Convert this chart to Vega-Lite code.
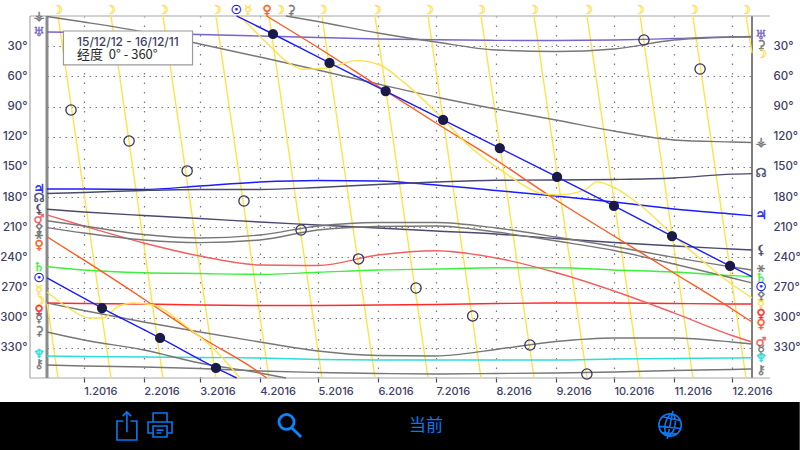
{
"$schema":"https://vega.github.io/schema/vega-lite/v6.json",
"width":705,"height":362,"autosize":{"type":"none"},
"padding":{"left":47,"top":16,"right":48,"bottom":72},
"background":"white",
"config":{"view":{"stroke":null},"font":"Liberation Sans"},
"datasets":{
"planets":[
{"date":"2015-12-13","Uranus":15.9,"Vesta":0.5,"Chiron":347,"Neptune":338.1,"Hermes":285.4,"Saturn":249.3,"Mars":197.9,"Jupiter":172,"Node":176.5,"Lilith":192.2,"Juno":203.6,"Pallas":210.5,"Eros":285.4},
{"date":"2016-01-01","Uranus":16.4,"Vesta":6,"Chiron":348,"Neptune":338.6,"Hermes":285.9,"Saturn":252.6,"Mars":208.8,"Jupiter":172,"Node":175.5,"Lilith":194.9,"Juno":208.8,"Pallas":215.8,"Eros":292.9},
{"date":"2016-02-01","Uranus":17.4,"Vesta":15.9,"Chiron":349,"Neptune":339.1,"Hermes":286.4,"Saturn":255.3,"Mars":225.7,"Jupiter":172.5,"Node":173.5,"Lilith":198.4,"Juno":217.3,"Pallas":222.7,"Eros":304.3},
{"date":"2016-03-01","Uranus":18.4,"Vesta":27.8,"Chiron":350.5,"Neptune":339.6,"Hermes":287.4,"Saturn":256.1,"Mars":238.7,"Jupiter":169,"Node":172.5,"Lilith":201.4,"Juno":220.8,"Pallas":225.4,"Eros":314.2},
{"date":"2016-04-01","Uranus":19.9,"Vesta":40.8,"Chiron":353,"Neptune":340.1,"Hermes":287.9,"Saturn":256.9,"Mars":247.6,"Jupiter":165.1,"Node":172.5,"Lilith":204.9,"Juno":217.8,"Pallas":222.7,"Eros":324.2},
{"date":"2016-05-01","Uranus":21.4,"Vesta":53.7,"Chiron":354.5,"Neptune":341.6,"Hermes":287.9,"Saturn":254.9,"Mars":248.1,"Jupiter":163.6,"Node":170.5,"Lilith":207.8,"Juno":208.8,"Pallas":212.8,"Eros":333.1},
{"date":"2016-06-01","Uranus":22.9,"Vesta":67.6,"Chiron":355.5,"Neptune":342.1,"Hermes":287.4,"Saturn":252.6,"Mars":237.7,"Jupiter":164.1,"Node":167.6,"Lilith":210.8,"Juno":205.3,"Pallas":209.3,"Eros":337.6},
{"date":"2016-07-01","Uranus":23.6,"Vesta":80.5,"Chiron":356,"Neptune":342.1,"Hermes":286.9,"Saturn":251.6,"Mars":233.4,"Jupiter":168.1,"Node":165.1,"Lilith":213.8,"Juno":205.3,"Pallas":208.8,"Eros":338.1},
{"date":"2016-08-01","Uranus":24.2,"Vesta":92.5,"Chiron":355.5,"Neptune":342.1,"Hermes":285.9,"Saturn":250.3,"Mars":240.6,"Jupiter":173.5,"Node":163.4,"Lilith":216.8,"Juno":210.8,"Pallas":214.8,"Eros":331.6},
{"date":"2016-09-01","Uranus":24.4,"Vesta":103.4,"Chiron":355,"Neptune":342.1,"Hermes":285.4,"Saturn":250.3,"Mars":255.1,"Jupiter":179,"Node":163.1,"Lilith":221.3,"Juno":219.8,"Pallas":223.7,"Eros":323.7},
{"date":"2016-10-01","Uranus":23.9,"Vesta":114.4,"Chiron":354,"Neptune":341.1,"Hermes":285.4,"Saturn":252.6,"Mars":273.5,"Jupiter":185,"Node":162.6,"Lilith":225.2,"Juno":229.2,"Pallas":233.2,"Eros":320.2},
{"date":"2016-11-01","Uranus":22.4,"Vesta":123.3,"Chiron":352.5,"Neptune":340.6,"Hermes":285.9,"Saturn":254.6,"Mars":295.3,"Jupiter":191.9,"Node":161.1,"Lilith":228.7,"Juno":240.1,"Pallas":246.6,"Eros":320.2},
{"date":"2016-12-01","Uranus":20.9,"Vesta":125.3,"Chiron":351.5,"Neptune":340.1,"Hermes":286.4,"Saturn":258.2,"Mars":317.7,"Jupiter":196.9,"Node":157.3,"Lilith":231.7,"Juno":249.6,"Pallas":260.5,"Eros":324.2},
{"date":"2016-12-11T08:00Z","Uranus":20.9,"Vesta":125.8,"Chiron":351,"Neptune":339.8,"Hermes":286.4,"Saturn":259.2,"Mars":324.2,"Jupiter":198.6,"Node":156.8,"Lilith":232.7,"Juno":252.6,"Pallas":265.5,"Eros":326.2}
],
"paths":[
{"body":"Ceres","seg":"c1","date":"2015-12-13","deg":314.2},{"body":"Ceres","seg":"c1","date":"2016-01-01","deg":322.2},{"body":"Ceres","seg":"c1","date":"2016-02-01","deg":332.1},{"body":"Ceres","seg":"c1","date":"2016-03-01","deg":345.1},{"body":"Ceres","seg":"c1","date":"2016-04-01","deg":355},{"body":"Ceres","seg":"c1","date":"2016-04-14T12:00Z","deg":360},
{"body":"Ceres","seg":"c2","date":"2016-04-14T12:00Z","deg":0},{"body":"Ceres","seg":"c2","date":"2016-05-01","deg":5.5},{"body":"Ceres","seg":"c2","date":"2016-06-01","deg":16.9},{"body":"Ceres","seg":"c2","date":"2016-07-01","deg":25.9},{"body":"Ceres","seg":"c2","date":"2016-08-01","deg":33.8},{"body":"Ceres","seg":"c2","date":"2016-09-01","deg":35.3},{"body":"Ceres","seg":"c2","date":"2016-10-01","deg":32.8},{"body":"Ceres","seg":"c2","date":"2016-11-01","deg":23.9},{"body":"Ceres","seg":"c2","date":"2016-12-01","deg":20.9},{"body":"Ceres","seg":"c2","date":"2016-12-11T08:00Z","deg":20.4},
{"body":"Venus","seg":"v1","date":"2015-12-13","deg":219.5},{"body":"Venus","seg":"v1","date":"2016-01-01","deg":242.6},{"body":"Venus","seg":"v1","date":"2016-02-01","deg":281.4},{"body":"Venus","seg":"v1","date":"2016-03-01","deg":318.7},{"body":"Venus","seg":"v1","date":"2016-04-01","deg":355},{"body":"Venus","seg":"v1","date":"2016-04-04T12:00Z","deg":360},
{"body":"Venus","seg":"v2","date":"2016-04-04T12:00Z","deg":0},{"body":"Venus","seg":"v2","date":"2016-05-01","deg":31.3},{"body":"Venus","seg":"v2","date":"2016-06-01","deg":69.6},{"body":"Venus","seg":"v2","date":"2016-07-01","deg":106.4},{"body":"Venus","seg":"v2","date":"2016-08-01","deg":143.2},{"body":"Venus","seg":"v2","date":"2016-09-01","deg":183},{"body":"Venus","seg":"v2","date":"2016-10-01","deg":218.8},{"body":"Venus","seg":"v2","date":"2016-11-01","deg":255.6},{"body":"Venus","seg":"v2","date":"2016-12-01","deg":291.4},{"body":"Venus","seg":"v2","date":"2016-12-11T08:00Z","deg":304.3},
{"body":"Mercury","seg":"m1","date":"2015-12-13","deg":274.5},{"body":"Mercury","seg":"m1","date":"2015-12-23T07:00Z","deg":289.4},{"body":"Mercury","seg":"m1","date":"2016-01-04T05:00Z","deg":300.3},{"body":"Mercury","seg":"m1","date":"2016-01-10T22:00Z","deg":300.3},{"body":"Mercury","seg":"m1","date":"2016-01-18T05:00Z","deg":289.4},{"body":"Mercury","seg":"m1","date":"2016-01-26T10:00Z","deg":285.4},{"body":"Mercury","seg":"m1","date":"2016-02-05T19:00Z","deg":287.4},{"body":"Mercury","seg":"m1","date":"2016-02-23T10:00Z","deg":309.3},{"body":"Mercury","seg":"m1","date":"2016-03-08T19:00Z","deg":332.1},{"body":"Mercury","seg":"m1","date":"2016-03-21T17:00Z","deg":360},
{"body":"Mercury","seg":"m2","date":"2016-03-21T17:00Z","deg":0},{"body":"Mercury","seg":"m2","date":"2016-04-06T05:00Z","deg":29.8},{"body":"Mercury","seg":"m2","date":"2016-04-15","deg":45.4},{"body":"Mercury","seg":"m2","date":"2016-04-23T07:00Z","deg":53},{"body":"Mercury","seg":"m2","date":"2016-05-05T17:00Z","deg":51.7},{"body":"Mercury","seg":"m2","date":"2016-05-21T05:00Z","deg":44.4},{"body":"Mercury","seg":"m2","date":"2016-06-02T02:00Z","deg":48.7},{"body":"Mercury","seg":"m2","date":"2016-06-14","deg":65.3},{"body":"Mercury","seg":"m2","date":"2016-07-01T14:00Z","deg":96.5},{"body":"Mercury","seg":"m2","date":"2016-07-18T14:00Z","deg":130},{"body":"Mercury","seg":"m2","date":"2016-08-04T17:00Z","deg":154.8},{"body":"Mercury","seg":"m2","date":"2016-08-23T19:00Z","deg":176},{"body":"Mercury","seg":"m2","date":"2016-09-02T02:00Z","deg":178},{"body":"Mercury","seg":"m2","date":"2016-09-16","deg":173},{"body":"Mercury","seg":"m2","date":"2016-09-22T05:00Z","deg":165},{"body":"Mercury","seg":"m2","date":"2016-09-30T12:00Z","deg":170},{"body":"Mercury","seg":"m2","date":"2016-10-14T12:00Z","deg":188},{"body":"Mercury","seg":"m2","date":"2016-10-31T12:00Z","deg":217.8},{"body":"Mercury","seg":"m2","date":"2016-11-30","deg":265.5},{"body":"Mercury","seg":"m2","date":"2016-12-11T08:00Z","deg":280.4},
{"body":"Sun","seg":"s1","date":"2015-12-13","deg":260.5},{"body":"Sun","seg":"s1","date":"2016-01-10T10:00Z","deg":290.4},{"body":"Sun","seg":"s1","date":"2016-02-09T10:00Z","deg":320.2},{"body":"Sun","seg":"s1","date":"2016-03-09T07:00Z","deg":350},{"body":"Sun","seg":"s1","date":"2016-03-20","deg":360},
{"body":"Sun","seg":"s2","date":"2016-03-20","deg":0},{"body":"Sun","seg":"s2","date":"2016-04-07T19:00Z","deg":17.9},{"body":"Sun","seg":"s2","date":"2016-05-07","deg":46.7},{"body":"Sun","seg":"s2","date":"2016-06-05","deg":74.6},{"body":"Sun","seg":"s2","date":"2016-07-04T17:00Z","deg":103.4},{"body":"Sun","seg":"s2","date":"2016-08-03","deg":131.3},{"body":"Sun","seg":"s2","date":"2016-09-01T14:00Z","deg":160.1},{"body":"Sun","seg":"s2","date":"2016-10-01","deg":188.9},{"body":"Sun","seg":"s2","date":"2016-10-31","deg":218.8},{"body":"Sun","seg":"s2","date":"2016-11-30","deg":248.6},{"body":"Sun","seg":"s2","date":"2016-12-11T08:00Z","deg":259.3}
],
"moons":[
{"body":"Moon","seg":"l0","date":"2015-12-13","deg":285},{"body":"Moon","seg":"l0","date":"2015-12-18T17:00Z","deg":360},
{"body":"Moon","seg":"l1","date":"2015-12-18T17:00Z","deg":0},{"body":"Moon","seg":"l1","date":"2016-01-01T10:00Z","deg":180},{"body":"Moon","seg":"l1","date":"2016-01-15T02:00Z","deg":360},
{"body":"Moon","seg":"l2","date":"2016-01-15T02:00Z","deg":0},{"body":"Moon","seg":"l2","date":"2016-01-28T12:00Z","deg":180},{"body":"Moon","seg":"l2","date":"2016-02-10T22:00Z","deg":360},
{"body":"Moon","seg":"l3","date":"2016-02-10T22:00Z","deg":0},{"body":"Moon","seg":"l3","date":"2016-02-24T14:00Z","deg":180},{"body":"Moon","seg":"l3","date":"2016-03-09T07:00Z","deg":360},
{"body":"Moon","seg":"l4","date":"2016-03-09T07:00Z","deg":0},{"body":"Moon","seg":"l4","date":"2016-03-23","deg":180},{"body":"Moon","seg":"l4","date":"2016-04-05T17:00Z","deg":360},
{"body":"Moon","seg":"l5","date":"2016-04-05T17:00Z","deg":0},{"body":"Moon","seg":"l5","date":"2016-04-19T10:00Z","deg":180},{"body":"Moon","seg":"l5","date":"2016-05-03T02:00Z","deg":360},
{"body":"Moon","seg":"l6","date":"2016-05-03T02:00Z","deg":0},{"body":"Moon","seg":"l6","date":"2016-05-16T19:00Z","deg":180},{"body":"Moon","seg":"l6","date":"2016-05-30T12:00Z","deg":360},
{"body":"Moon","seg":"l7","date":"2016-05-30T12:00Z","deg":0},{"body":"Moon","seg":"l7","date":"2016-06-13T05:00Z","deg":180},{"body":"Moon","seg":"l7","date":"2016-06-26T22:00Z","deg":360},
{"body":"Moon","seg":"l8","date":"2016-06-26T22:00Z","deg":0},{"body":"Moon","seg":"l8","date":"2016-07-10T14:00Z","deg":180},{"body":"Moon","seg":"l8","date":"2016-07-24T07:00Z","deg":360},
{"body":"Moon","seg":"l9","date":"2016-07-24T07:00Z","deg":0},{"body":"Moon","seg":"l9","date":"2016-08-07","deg":180},{"body":"Moon","seg":"l9","date":"2016-08-20T17:00Z","deg":360},
{"body":"Moon","seg":"l10","date":"2016-08-20T17:00Z","deg":0},{"body":"Moon","seg":"l10","date":"2016-09-03T10:00Z","deg":180},{"body":"Moon","seg":"l10","date":"2016-09-17T02:00Z","deg":360},
{"body":"Moon","seg":"l11","date":"2016-09-17T02:00Z","deg":0},{"body":"Moon","seg":"l11","date":"2016-09-30T19:00Z","deg":180},{"body":"Moon","seg":"l11","date":"2016-10-14T12:00Z","deg":360},
{"body":"Moon","seg":"l12","date":"2016-10-14T12:00Z","deg":0},{"body":"Moon","seg":"l12","date":"2016-10-28T05:00Z","deg":180},{"body":"Moon","seg":"l12","date":"2016-11-10T19:00Z","deg":360},
{"body":"Moon","seg":"l13","date":"2016-11-10T19:00Z","deg":0},{"body":"Moon","seg":"l13","date":"2016-11-24T12:00Z","deg":180},{"body":"Moon","seg":"l13","date":"2016-12-08T05:00Z","deg":360},
{"body":"Moon","seg":"l14","date":"2016-12-08T05:00Z","deg":0},{"body":"Moon","seg":"l14","date":"2016-12-11T08:00Z","deg":37}
],
"newMoons":[
{"date":"2016-01-10T10:00Z","deg":290.4},{"date":"2016-02-09T10:00Z","deg":320.2},{"date":"2016-03-09T07:00Z","deg":350},{"date":"2016-04-07T19:00Z","deg":17.9},{"date":"2016-05-07","deg":46.7},{"date":"2016-06-05","deg":74.6},{"date":"2016-07-04T17:00Z","deg":103.4},{"date":"2016-08-03","deg":131.3},{"date":"2016-09-01T14:00Z","deg":160.1},{"date":"2016-10-01","deg":188.9},{"date":"2016-10-31","deg":218.8},{"date":"2016-11-30","deg":248.6}
],
"fullMoons":[
{"date":"2015-12-25T10:00Z","deg":93.5},{"date":"2016-01-24T10:00Z","deg":124.3},{"date":"2016-02-23T10:00Z","deg":154.1},{"date":"2016-03-23T19:00Z","deg":184},{"date":"2016-04-22T07:00Z","deg":212.8},{"date":"2016-05-22","deg":241.6},{"date":"2016-06-20T17:00Z","deg":270.5},{"date":"2016-07-20","deg":298.3},{"date":"2016-08-18T14:00Z","deg":327.2},{"date":"2016-09-17","deg":356},{"date":"2016-10-16T12:00Z","deg":23.9},{"date":"2016-11-14T12:00Z","deg":52.7}
],
"glyphs":[
{"g":"⚶","body":"Vesta","date":"2015-12-08T21:00Z","deg":0},{"g":"♅","body":"Uranus","date":"2015-12-08T21:00Z","deg":15.9},{"g":"♃","body":"Jupiter","date":"2015-12-08T21:00Z","deg":172},{"g":"☊","body":"Node","date":"2015-12-08T21:00Z","deg":181},{"g":"⚸","body":"Lilith","date":"2015-12-08T21:00Z","deg":192},{"g":"♂","body":"Mars","date":"2015-12-08T21:00Z","deg":201.9},{"g":"⚴","body":"Pallas","date":"2015-12-08T21:00Z","deg":210.8},{"g":"⚹","body":"Juno","date":"2015-12-08T21:00Z","deg":217.8},{"g":"♀","body":"Venus","date":"2015-12-08T21:00Z","deg":227.7},{"g":"♄","body":"Saturn","date":"2015-12-08T21:00Z","deg":249.6},{"g":"☉","body":"Sun","date":"2015-12-08T21:00Z","deg":260.5},{"g":"☿","body":"Mercury","date":"2015-12-08T21:00Z","deg":272.5},{"g":"☽","body":"Moon","date":"2015-12-08T21:00Z","deg":283.4},{"g":"♀","body":"Hermes","date":"2015-12-08T21:00Z","deg":292.4},{"g":"☿","body":"Eros","date":"2015-12-08T21:00Z","deg":300.3},{"g":"⚳","body":"Ceres","date":"2015-12-08T21:00Z","deg":313.2},{"g":"♆","body":"Neptune","date":"2015-12-08T21:00Z","deg":336.1},{"g":"⚷","body":"Chiron","date":"2015-12-08T21:00Z","deg":346.1},
{"g":"♅","body":"Uranus","date":"2016-12-16","deg":18.9},{"g":"⚳","body":"Ceres","date":"2016-12-16","deg":28.8},{"g":"☽","body":"Moon","date":"2016-12-16","deg":37.8},{"g":"⚶","body":"Vesta","date":"2016-12-16","deg":125.3},{"g":"☊","body":"Node","date":"2016-12-16","deg":156.1},{"g":"♃","body":"Jupiter","date":"2016-12-16","deg":197.9},{"g":"⚸","body":"Lilith","date":"2016-12-16","deg":232.7},{"g":"⚹","body":"Juno","date":"2016-12-16","deg":250.6},{"g":"♄","body":"Saturn","date":"2016-12-16","deg":260.5},{"g":"☉","body":"Sun","date":"2016-12-16","deg":269.5},{"g":"⚴","body":"Pallas","date":"2016-12-16","deg":278.4},{"g":"☿","body":"Mercury","date":"2016-12-16","deg":286.4},{"g":"♀","body":"Hermes","date":"2016-12-16","deg":296.3},{"g":"♀","body":"Venus","date":"2016-12-16","deg":306.3},{"g":"♂","body":"Mars","date":"2016-12-16","deg":324.2},{"g":"☿","body":"Eros","date":"2016-12-16","deg":332.1},{"g":"♆","body":"Neptune","date":"2016-12-16","deg":340.1},{"g":"⚷","body":"Chiron","date":"2016-12-16","deg":352},
{"g":"☽","body":"Moon","date":"2015-12-18T05:00Z","deg":-6},{"g":"☽","body":"Moon","date":"2016-01-14T14:00Z","deg":-6},{"g":"☽","body":"Moon","date":"2016-02-10T22:00Z","deg":-6},{"g":"☽","body":"Moon","date":"2016-03-09T07:00Z","deg":-6},{"g":"☽","body":"Moon","date":"2016-04-10T22:00Z","deg":-6},{"g":"☽","body":"Moon","date":"2016-05-03T02:00Z","deg":-6},{"g":"☽","body":"Moon","date":"2016-05-31","deg":-6},{"g":"☽","body":"Moon","date":"2016-06-26T22:00Z","deg":-6},{"g":"☽","body":"Moon","date":"2016-07-23T19:00Z","deg":-6},{"g":"☽","body":"Moon","date":"2016-08-20T05:00Z","deg":-6},{"g":"☽","body":"Moon","date":"2016-09-17T02:00Z","deg":-6},{"g":"☽","body":"Moon","date":"2016-10-13T22:00Z","deg":-6},{"g":"☽","body":"Moon","date":"2016-11-10T19:00Z","deg":-6},{"g":"☽","body":"Moon","date":"2016-12-07T17:00Z","deg":-6},
{"g":"☉","body":"Sun","date":"2016-03-19T22:00Z","deg":-6},{"g":"☿","body":"Mercury","date":"2016-03-25T22:00Z","deg":-6},{"g":"♀","body":"Venus","date":"2016-04-04T17:00Z","deg":-6},{"g":"⚳","body":"Ceres","date":"2016-04-17T02:00Z","deg":-6}
],
"frameThin":[
{"date":"2015-12-04T05:00Z","date2":"2016-12-20T14:00Z","deg":0,"deg2":0},
{"date":"2015-12-04T05:00Z","date2":"2016-12-20T14:00Z","deg":360,"deg2":360},
{"date":"2015-12-04T05:00Z","date2":"2015-12-04T05:00Z","deg":0,"deg2":360}
],
"frameThick":[
{"date":"2015-12-13","deg":0,"deg2":360}
],
"frameRight":[
{"date":"2016-12-11T08:00Z","deg":0,"deg2":360}
],
"footer":[{"date":"2015-11-18T17:00Z","date2":"2017-01-05","deg":383.8,"deg2":432}],
"info":[{"date":"2015-12-21T12:00Z","date2":"2016-02-26T05:00Z","deg":14.9,"deg2":48.7}],
"icons":[
{"icon":"share","date":"2016-01-23T07:00Z","deg":407.7},
{"icon":"printer","date":"2016-02-09T10:00Z","deg":407.7},
{"icon":"globe","date":"2016-10-30","deg":406.7}
],
"searchIcon":[{"icon":"search","date":"2016-04-16T14:00Z","deg":407.7}]
},
"encoding":{
"x":{"field":"date","type":"temporal","title":null,
 "scale":{"type":"utc","domain":["2015-12-13","2016-12-11T08:00:00Z"],"nice":false},
 "axis":{"format":"%-m.%Y","tickCount":"month","grid":true,"gridDash":[1.5,8],"gridColor":"#45456e","gridWidth":1.2,"gridOpacity":0.75,"domain":false,"tickSize":4,"tickColor":"#45456e","tickWidth":1.2,"labelAlign":"left","labelBaseline":"top","labelPadding":3,"labelFontSize":11,"labelFontWeight":500,"labelColor":"#3e3e66","labelFont":"Inter","labelOverlap":false,"labelFlush":false}},
"y":{"field":"deg","type":"quantitative","title":null,"scale":{"domain":[0,360],"reverse":true,"nice":false,"zero":false},"axis":null},
"color":{"field":"body","type":"nominal","legend":null,"scale":{
 "domain":["Uranus","Vesta","Chiron","Neptune","Hermes","Saturn","Mars","Jupiter","Node","Lilith","Juno","Pallas","Eros","Ceres","Venus","Mercury","Sun","Moon"],
 "range":["#7b62c8","#777777","#777777","#2fdcdc","#ff2b2b","#3cf03c","#f2605f","#1c1cff","#4a4a70","#4a4a70","#777777","#777777","#777777","#777777","#ff5a1e","#ffe24a","#1c1cff","#ffe24a"]}}
},
"resolve":{"axis":{"y":"independent"}},
"layer":[
{"data":{"name":"frameRight"},"mark":{"type":"rule","color":"#777777","strokeWidth":1.5},
 "encoding":{"y":{"field":"deg","type":"quantitative","title":null,"scale":{"domain":[0,360],"reverse":true,"nice":false,"zero":false},
  "axis":{"orient":"left","values":[30,60,90,120,150,180,210,240,270,300,330],"labelExpr":"datum.value+'°'","grid":true,"gridDash":[1.5,4.5],"gridColor":"#45456e","gridWidth":1.2,"gridOpacity":0.75,"domain":false,"ticks":false,"labelPadding":20,"labelFontSize":11.5,"labelFontWeight":500,"labelColor":"#3e3e66","labelFont":"Inter"}},
  "y2":{"field":"deg2"},"color":{"value":"#777777"}}},
{"data":{"name":"frameRight"},"mark":{"type":"rule","color":"#777777","strokeWidth":1.5},
 "encoding":{"y":{"field":"deg","type":"quantitative","title":null,"scale":{"domain":[0,360],"reverse":true,"nice":false,"zero":false},
  "axis":{"orient":"right","values":[30,60,90,120,150,180,210,240,270,300,330],"labelExpr":"datum.value+'°'","grid":false,"domain":false,"ticks":false,"labelPadding":21,"labelFontSize":11.5,"labelFontWeight":500,"labelColor":"#3e3e66","labelFont":"Inter"}},
  "y2":{"field":"deg2"},"color":{"value":"#777777"}}},
{"data":{"name":"frameThin"},"mark":{"type":"rule","strokeWidth":1.2},"encoding":{"x2":{"field":"date2"},"y2":{"field":"deg2"},"color":{"value":"#a8a8a8"}}},
{"data":{"name":"frameThick"},"mark":{"type":"rule","strokeWidth":3},"encoding":{"y2":{"field":"deg2"},"color":{"value":"#8a8a8a"}}},
{"data":{"name":"moons"},"mark":{"type":"line","strokeWidth":1.4},"encoding":{"detail":{"field":"seg"}}},
{"data":{"name":"planets"},"transform":[{"fold":["Uranus","Vesta","Chiron","Neptune","Hermes","Saturn","Mars","Jupiter","Node","Lilith","Juno","Pallas","Eros"],"as":["body","deg"]}],
 "mark":{"type":"line","strokeWidth":1.4,"interpolate":"monotone"}},
{"data":{"name":"paths"},"mark":{"type":"line","strokeWidth":1.4,"interpolate":"monotone"},"encoding":{"detail":{"field":"seg"}}},
{"data":{"name":"fullMoons"},"mark":{"type":"point","shape":"circle","size":105,"filled":false,"strokeWidth":1.3,"opacity":1},"encoding":{"color":{"value":"#33335f"}}},
{"data":{"name":"newMoons"},"mark":{"type":"point","shape":"circle","size":105,"filled":true,"opacity":1},"encoding":{"color":{"value":"#1a1a48"}}},
{"data":{"name":"glyphs"},"mark":{"type":"text","font":"DejaVu Sans","fontSize":12.5,"baseline":"middle","align":"center","strokeWidth":0.4},
 "encoding":{"text":{"field":"g"},"stroke":{"field":"body","type":"nominal","legend":null,"scale":{
 "domain":["Uranus","Vesta","Chiron","Neptune","Hermes","Saturn","Mars","Jupiter","Node","Lilith","Juno","Pallas","Eros","Ceres","Venus","Mercury","Sun","Moon"],
 "range":["#7b62c8","#777777","#777777","#2fdcdc","#ff2b2b","#3cf03c","#f2605f","#1c1cff","#4a4a70","#4a4a70","#777777","#777777","#777777","#777777","#ff5a1e","#ffe24a","#1c1cff","#ffe24a"]}}}},
{"data":{"name":"info"},"mark":{"type":"rect","fill":"white","stroke":"#9a9a9a","strokeWidth":1.2},"encoding":{"x2":{"field":"date2"},"y2":{"field":"deg2"},"color":{"value":"white"}}},
{"data":{"values":[{"date":"2015-12-28T12:00Z","deg":25.9,"t":"15/12/12 - 16/12/11"}]},"mark":{"type":"text","align":"left","baseline":"middle","fontSize":12,"fontWeight":500,"font":"Inter"},"encoding":{"text":{"field":"t"},"color":{"value":"#3e3e66"}}},
{"data":{"values":[{"date":"2015-12-28T12:00Z","deg":38.8,"t":"经度\u00a0\u00a00°\u00a0-\u00a0360°"}]},"mark":{"type":"text","align":"left","baseline":"middle","fontSize":13,"font":"Noto Sans CJK SC"},"encoding":{"text":{"field":"t"},"color":{"value":"#2a2a2a"}}},
{"data":{"name":"footer"},"mark":{"type":"rect"},"encoding":{"x2":{"field":"date2"},"y2":{"field":"deg2"},"color":{"value":"#000000"}}},
{"data":{"values":[{"date":"2016-06-25T22:00Z","deg":407.7,"t":"当前"}]},"mark":{"type":"text","align":"center","baseline":"middle","fontSize":17,"font":"Noto Sans CJK SC"},"encoding":{"text":{"field":"t"},"color":{"value":"#0a78f0"}}},
{"data":{"name":"icons"},"mark":{"type":"point","filled":false,"size":784,"strokeWidth":1.6,"opacity":1},
 "encoding":{"color":{"value":"#0a78f0"},"shape":{"field":"icon","type":"nominal","legend":null,"scale":{"domain":["share","printer","globe"],
 "range":["M-0.25,-0.36 L-0.71,-0.36 L-0.71,1 L0.71,1 L0.71,-0.36 L0.25,-0.36 M0,0.45 L0,-1 M-0.3,-0.7 L0,-1 L0.3,-0.7",
 "M-0.5,0.5 L-0.857,0.5 L-0.857,-0.286 L0.857,-0.286 L0.857,0.5 L0.5,0.5 M-0.5,-0.286 L-0.5,-0.93 L0.5,-0.93 L0.5,-0.286 M-0.5,0 L0.5,0 L0.5,0.79 L-0.5,0.79 Z M-0.25,0.3 L0.25,0.3 M-0.25,0.5 L0.1,0.5",
 "M-0.8,0 A0.8,0.8 0 1 1 0.8,0 A0.8,0.8 0 1 1 -0.8,0 M0.2,-1 L-0.2,1 M0.15,-0.78 A0.4,0.8 12 0 0 -0.15,0.78 A0.4,0.8 12 0 0 0.15,-0.78 M-0.62,-0.6 L0.72,-0.32 M-0.78,0.1 L0.78,0.25 M-0.6,0.55 L0.55,0.65"]}}}},
{"data":{"name":"searchIcon"},"mark":{"type":"point","filled":false,"size":784,"strokeWidth":2.8,"opacity":1,"shape":"M-0.786,-0.286 A0.536,0.536 0 1 1 0.286,-0.286 A0.536,0.536 0 1 1 -0.786,-0.286 M0.14,0.14 L0.79,0.79"},
 "encoding":{"color":{"value":"#0a84ff"}}}
]
}
